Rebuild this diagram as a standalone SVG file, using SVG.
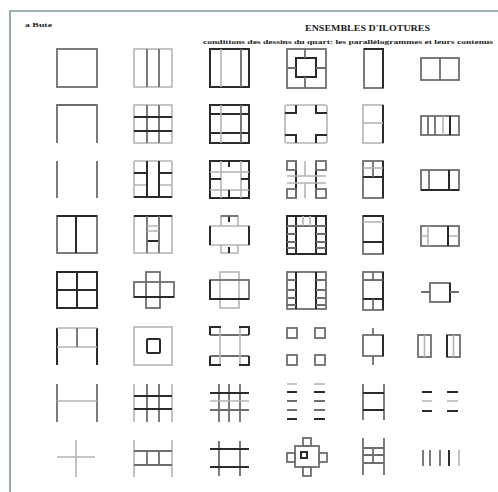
<svg xmlns="http://www.w3.org/2000/svg" width="498" height="492" viewBox="0 0 498 492">
<style>
.d,.m,.l,.f{fill:none;stroke-linecap:butt}
.d{stroke:#2a2a2a;stroke-width:2}
.m{stroke:#6e6e6e;stroke-width:1.8}
.l{stroke:#b4b4b4;stroke-width:1.6}
.f{stroke:#7d9898;stroke-width:1.6}
.t{font-family:"Liberation Serif","DejaVu Serif",serif;font-weight:bold;fill:#222}
</style>
<rect width="498" height="492" fill="#fff"/>
<path class="f" d="M10,492V11H498"/>
<g id="labels">
<text class="t" x="25" y="27" font-size="6" textLength="27" lengthAdjust="spacingAndGlyphs">a Bute</text>
<text class="t" x="305" y="31" font-size="8.5" textLength="125" lengthAdjust="spacingAndGlyphs">ENSEMBLES  D'ILOTURES</text>
<text class="t" x="203" y="44" font-size="6.5" textLength="290" lengthAdjust="spacingAndGlyphs">conditions des dessins du quart: les parallélogrammes et leurs contenus</text>
</g>
<g id="connectors"/>
<!-- row 1 -->
<g id="r1c1"><rect class="m" x="57" y="49" width="40" height="38"/></g>
<g id="r1c2"><rect class="l" x="134" y="49" width="38" height="38"/><path class="m" d="M147,49V87M159,49V87"/></g>
<g id="r1c3"><rect class="d" x="210" y="49" width="39" height="38"/><path class="l" d="M221,49V87"/><path class="m" d="M241,49V87"/></g>
<g id="r1c4"><rect class="m" x="287" y="49" width="39" height="39"/><rect class="d" x="296" y="58" width="20" height="19"/><path class="m" d="M305,49V58M305,77V88M287,68H296M316,68H326"/></g>
<g id="r1c5"><rect class="m" x="364" y="49" width="19" height="39"/><path class="d" d="M364,49H383V88"/></g>
<g id="r1c6"><rect class="m" x="421" y="58" width="38" height="22"/><path class="m" d="M440,58V80"/></g>
<!-- row 2 -->
<g id="r2c1"><path class="m" d="M57,143V105H97V143"/></g>
<g id="r2c2"><rect class="l" x="134" y="105" width="38" height="38"/><path class="m" d="M147,105V143M159,105V143"/><path class="d" d="M134,117H172M134,131H172"/></g>
<g id="r2c3"><rect class="d" x="210" y="105" width="39" height="38"/><path class="d" d="M210,114H249M210,133H249"/><path class="l" d="M221,105V143"/><path class="m" d="M241,105V143"/></g>
<g id="r2c4"><rect class="l" x="285" y="105" width="42" height="38" rx="2"/><path class="d" d="M285,113H296V105M316,105V113H327M285,135H296V143M316,143V135H327"/></g>
<g id="r2c5"><rect class="l" x="363" y="105" width="20" height="38"/><path class="d" d="M383,105V143"/><path class="l" d="M363,123H383"/></g>
<g id="r2c6"><rect class="m" x="421" y="116" width="38" height="19"/><path class="m" d="M428,116V135M435,116V135"/><path class="l" d="M443,116V135"/><path class="d" d="M450,116V135"/></g>
<!-- row 3 -->
<g id="r3c1"><path class="m" d="M57,161V198M97,161V198"/></g>
<g id="r3c2"><path class="l" d="M134,161H172M134,161V198M172,161V198M134,185H147M159,185H172"/><path class="d" d="M147,161V198M159,161V198M134,173H147M159,173H172M134,197H172"/></g>
<g id="r3c3"><rect class="d" x="210" y="161" width="39" height="37"/><path class="l" d="M221,161V198M241,161V198M210,172H249M210,190H249"/><path class="d" d="M229,161V167M229,190V198M210,179H221M241,179H249"/></g>
<g id="r3c4"><path class="d" d="M296,161V198M316,161V198"/><rect class="m" x="287" y="161" width="9" height="9"/><rect class="m" x="316" y="161" width="10" height="9"/><rect class="m" x="287" y="189" width="9" height="9"/><rect class="m" x="316" y="189" width="10" height="9"/><path class="l" d="M287,176H326M287,183H326M305,161V176M305,183V198"/></g>
<g id="r3c5"><rect class="m" x="363" y="161" width="20" height="37"/><path class="d" d="M383,161V198M363,177H383"/><path class="m" d="M373,161V177"/><path class="l" d="M363,168H383"/></g>
<g id="r3c6"><rect class="m" x="421" y="170" width="38" height="20"/><path class="m" d="M429,170V190"/><path class="d" d="M449,170V190M421,190H459"/></g>
<!-- row 4 -->
<g id="r4c1"><rect class="m" x="57" y="216" width="40" height="37"/><path class="d" d="M57,216H97M76,216V253"/></g>
<g id="r4c2"><rect class="l" x="134" y="216" width="38" height="37"/><path class="d" d="M134,216H172M147,241H159"/><path class="m" d="M147,216V253M159,216V253"/><path class="l" d="M147,226H159M147,231H159"/></g>
<g id="r4c3"><path class="l" d="M221,216H238V226H249V245H238V253H221V245H210V226H221Z M210,226H249M210,245H249"/><path class="d" d="M210,226V245M249,226V245M229,216V222M229,247V253"/><path class="m" d="M221,216H238"/></g>
<g id="r4c4"><rect class="d" x="287" y="216" width="39" height="38"/><path class="d" d="M296,216V254M316,216V254"/><path class="m" d="M287,226H326M287,234H296M287,242H296M287,248H296M316,234H326M316,242H326M316,248H326"/><path class="l" d="M303,216V226M310,216V226"/></g>
<g id="r4c5"><rect class="m" x="363" y="216" width="20" height="38"/><path class="d" d="M363,216H383V254M363,242H383"/><path class="l" d="M363,222H383"/></g>
<g id="r4c6"><rect class="m" x="421" y="226" width="38" height="20"/><path class="l" d="M428,226V246M421,236H428M448,236H459"/><path class="d" d="M448,226V246"/></g>
<!-- row 5 -->
<g id="r5c1"><rect class="d" x="57" y="272" width="40" height="36"/><path class="d" d="M77,272V308M57,290H97"/></g>
<g id="r5c2"><rect class="m" x="134" y="282" width="40" height="15"/><rect class="m" x="146" y="272" width="14" height="36"/><path class="d" d="M134,297H174"/></g>
<g id="r5c3"><rect class="l" x="220" y="272" width="19" height="36"/><rect class="m" x="210" y="280" width="39" height="19"/><path class="d" d="M210,280V299H249"/></g>
<g id="r5c4"><rect class="m" x="287" y="272" width="39" height="37"/><path class="d" d="M296,272V309M316,272V309"/><path class="m" d="M287,280H296M287,290H296M287,298H296M287,305H296M316,280H326M316,290H326M316,298H326M316,305H326"/></g>
<g id="r5c5"><rect class="m" x="363" y="272" width="20" height="38"/><path class="d" d="M383,272V310M363,299H383"/><path class="m" d="M363,280H383M373,272V280M373,299V310"/></g>
<g id="r5c6"><rect class="m" x="430" y="283" width="20" height="19"/><path class="d" d="M450,283V302"/><path class="m" d="M421,292H430M450,292H459"/></g>
<!-- row 6 -->
<g id="r6c1"><path class="d" d="M57,328V365M97,328V365"/><path class="l" d="M57,328H97M57,347H97"/><path class="m" d="M77,328V347"/></g>
<g id="r6c2"><rect class="l" x="134" y="327" width="38" height="38"/><rect class="d" x="147" y="339" width="13" height="14" rx="1"/></g>
<g id="r6c3"><path class="m" d="M210,335H249M210,356H249"/><path class="l" d="M220,327V365M240,327V365"/><path class="d" d="M210,335V327H221M239,327H249V335M210,356V365H221M239,365H249V356"/></g>
<g id="r6c4"><rect class="m" x="287" y="328" width="10" height="10"/><rect class="m" x="315" y="328" width="10" height="10"/><rect class="m" x="287" y="355" width="10" height="10"/><rect class="m" x="315" y="355" width="10" height="10"/></g>
<g id="r6c5"><rect class="m" x="363" y="335" width="20" height="21"/><path class="d" d="M383,335V356"/><path class="m" d="M373,328V335M373,356V365"/></g>
<g id="r6c6"><rect class="m" x="418" y="335" width="13" height="22"/><rect class="m" x="447" y="335" width="13" height="22"/><path class="d" d="M447,335V357"/><path class="l" d="M424.5,335V357M453.5,335V357"/></g>
<!-- row 7 -->
<g id="r7c1"><path class="m" d="M57,384V422M97,384V422"/><path class="l" d="M57,401H97"/></g>
<g id="r7c2"><path class="l" d="M134,384V422M172,384V422"/><path class="m" d="M147,384V422M159,384V422"/><path class="d" d="M134,396H172M134,409H172"/></g>
<g id="r7c3"><path class="m" d="M219,384V422M229,384V422M240,384V422M210,410H249"/><path class="d" d="M210,393H249"/><path class="l" d="M210,401H249"/></g>
<g id="r7c4"><path class="l" d="M287,384H297M314,384H325"/><path class="d" d="M287,392H297M314,392H325M287,419H297M314,419H325"/><path class="m" d="M287,401H297M314,401H325M287,410H297M314,410H325"/></g>
<g id="r7c5"><path class="m" d="M363,384V420M384,384V420"/><path class="d" d="M363,393H384M363,410H384"/></g>
<g id="r7c6"><path class="d" d="M422,392H432M447,392H458M422,411H432M447,411H458"/><path class="l" d="M422,401H432M447,401H458"/></g>
<!-- row 8 -->
<g id="r8c1"><path class="l" d="M57,457H95M76,440V477"/></g>
<g id="r8c2"><path class="l" d="M134,440V477M172,440V477"/><path class="m" d="M134,451H172M134,465H172M147,451V465M159,451V465"/></g>
<g id="r8c3"><path class="m" d="M219,441V476M240,441V476"/><path class="d" d="M210,449H249M210,467H249"/></g>
<g id="r8c4"><rect class="m" x="295" y="446" width="24" height="21"/><rect class="m" x="303" y="438" width="8" height="8"/><rect class="m" x="303" y="467" width="8" height="9"/><rect class="m" x="287" y="453" width="8" height="9"/><rect class="m" x="319" y="453" width="8" height="9"/><rect class="d" x="301" y="452" width="6" height="6"/></g>
<g id="r8c5"><path class="m" d="M363,438V475M384,438V475M363,448H384M363,455H384M363,463H384M373,448V463"/></g>
<g id="r8c6"><path class="m" d="M423,450V466M430,450V466M440,450V466"/><path class="d" d="M449,450V466"/><path class="l" d="M459,450V466"/></g>
</svg>
